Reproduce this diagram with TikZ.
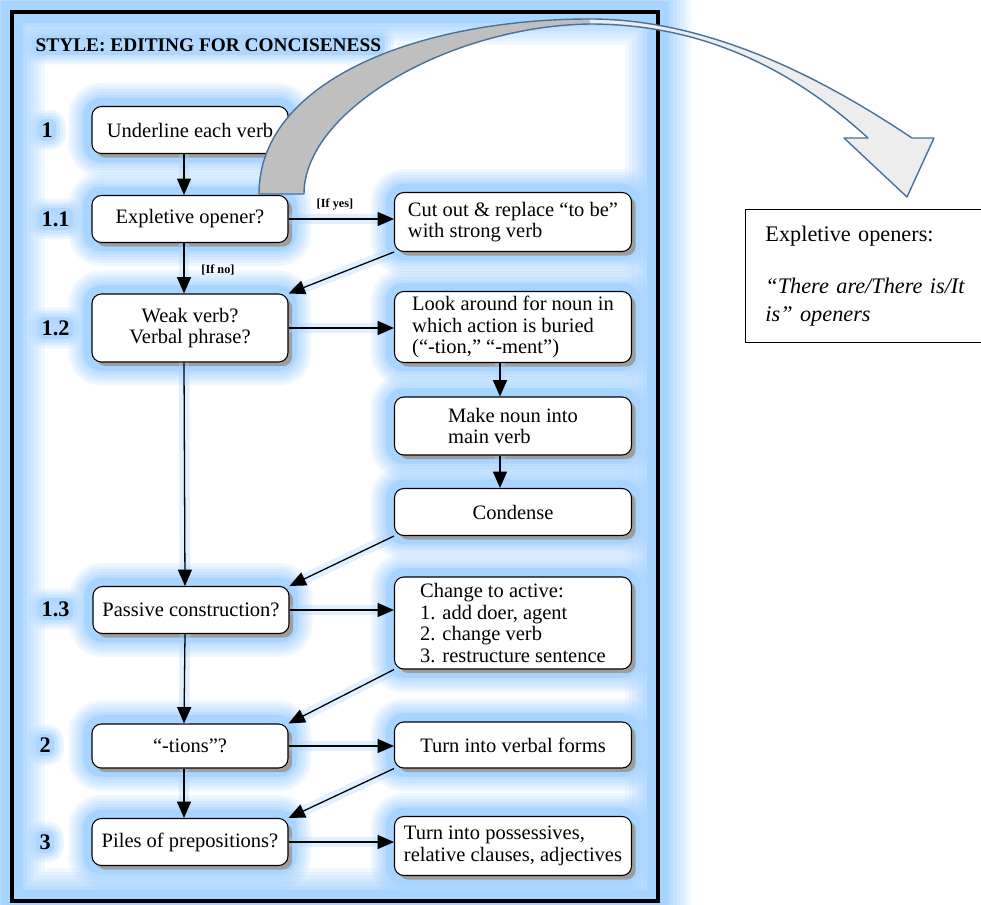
\documentclass[tikz,border=0pt]{standalone}
\usepackage{fontspec}
\setmainfont{Liberation Serif}
\usetikzlibrary{arrows.meta,shadows}
\definecolor{glowblue}{HTML}{A8D5FF}
\definecolor{arcgray}{HTML}{BFBFBF}
\definecolor{arclight}{HTML}{EDEDED}
\definecolor{arcedge}{HTML}{48729A}
\newcommand{\flowfont}{\fontsize{17.5}{18.5}\selectfont}

\begin{document}
\begin{tikzpicture}[x=0.03cm, y=-0.03cm,
    glow/.style={preaction={draw=glowblue, line width=40pt, opacity=0.18},
                 preaction={draw=glowblue, line width=35pt, opacity=0.18},
                 preaction={draw=glowblue, line width=30pt, opacity=0.2},
                 preaction={draw=glowblue, line width=25pt, opacity=0.25},
                 preaction={draw=glowblue, line width=20pt, opacity=0.35},
                 preaction={draw=glowblue, line width=15pt}},
    outerframe/.style={preaction={draw=glowblue, line width=56pt, opacity=0.15},
                       preaction={draw=glowblue, line width=50pt, opacity=0.15},
                       preaction={draw=glowblue, line width=44pt, opacity=0.18},
                       preaction={draw=glowblue, line width=38pt, opacity=0.2},
                       preaction={draw=glowblue, line width=32pt, opacity=0.25},
                       preaction={draw=glowblue, line width=26pt, opacity=0.35},
                       preaction={draw=glowblue, line width=19pt},
                       draw=black, line width=4.2pt},
    textglow/.style={rounded corners=6pt,
                     preaction={fill=glowblue, draw=glowblue, line width=16pt, opacity=0.2},
                     preaction={fill=glowblue, draw=glowblue, line width=11pt, opacity=0.25},
                     preaction={fill=glowblue, draw=glowblue, line width=6pt, opacity=0.35},
                     preaction={fill=glowblue, opacity=0.5}},
    stepbox/.style={glow, drop shadow={shadow xshift=3.5pt, shadow yshift=-3.5pt, fill=black!38, opacity=1},
                    rectangle, rounded corners=8pt, draw=black, line width=0.9pt, fill=white, font=\flowfont, inner sep=3pt},
    leftbox/.style={stepbox, minimum width=5.88cm, minimum height=1.41cm, align=center},
    rightbox/.style={stepbox, minimum width=7.11cm, align=left},
    stepnum/.style={textglow, font=\fontsize{19}{19}\selectfont\bfseries, inner sep=3pt},
    titletext/.style={textglow, font=\fontsize{16.5}{17}\selectfont\bfseries, inner sep=3pt},
    iflabel/.style={font=\fontsize{10.5}{11}\selectfont\bfseries},
    arrow/.style={-{Triangle[length=14pt, width=12pt]}, line width=1.1pt,
                  preaction={draw=glowblue, line width=9pt, opacity=0.35, arrows=-}},
    notebox/.style={draw=black, line width=0.8pt, fill=white, font=\fontsize{19}{24}\selectfont, align=left,
                    text width=6.4cm, inner xsep=0.6cm, minimum height=3.99cm}
]
    \fill[white] (0,0) rectangle (981,905);
    \useasboundingbox (0,0) rectangle (981,905);

    % frame and title
    \draw[outerframe] (12,12) rectangle (658,901);
    \node[titletext, anchor=west] (title) at (32,45) {STYLE: EDITING FOR CONCISENESS};

    % step numbers
    \node[stepnum, anchor=west] (n1) at (38,130) {1};
    \node[stepnum, anchor=west] (n11) at (38,219) {1.1};
    \node[stepnum, anchor=west] (n12) at (38,328) {1.2};
    \node[stepnum, anchor=west] (n13) at (38,609) {1.3};
    \node[stepnum, anchor=west] (n2) at (36,745) {2};
    \node[stepnum, anchor=west] (n3) at (36,842) {3};

    % left column
    \node[leftbox] (u) at (190,130) {Underline each verb};
    \node[leftbox] (e) at (190,219) {Expletive opener?};
    \node[leftbox, minimum height=2.04cm] (w) at (190,328) {Weak verb?\\Verbal phrase?};
    \node[leftbox] (p) at (191,610) {Passive construction?};
    \node[leftbox, minimum height=1.32cm] (t) at (190,746) {“-tions”?};
    \node[leftbox] (pp) at (190,842) {Piles of prepositions?};

    % right column
    \node[rightbox, minimum height=1.77cm] (cut) at (513,222) {Cut out \& replace “to be”\\with strong verb};
    \node[rightbox, minimum height=2.13cm] (look) at (513,327) {Look around for noun in\\which action is buried\\(“-tion,” “-ment”)};
    \node[rightbox, minimum height=1.74cm] (make) at (513,426) {Make noun into\\main verb};
    \node[rightbox, minimum height=1.41cm] (cond) at (513,512) {Condense};
    \node[rightbox, minimum height=2.76cm] (act) at (513,623) {Change to active:\\1. add doer, agent\\2. change verb\\3. restructure sentence};
    \node[rightbox, minimum height=1.38cm] (verbal) at (513,745) {Turn into verbal forms};
    \node[rightbox, minimum height=1.77cm] (poss) at (513,846) {Turn into possessives,\\relative clauses, adjectives};

    % vertical flow
    \draw[arrow] ([xshift=-0.18cm]u.south) -- ([xshift=-0.18cm]e.north);
    \draw[arrow] ([xshift=-0.18cm]e.south) -- ([xshift=-0.18cm]w.north);
    \draw[arrow] ([xshift=-0.18cm]w.south) -- ([xshift=-0.18cm]p.north);
    \draw[arrow] ([xshift=-0.18cm]p.south) -- ([xshift=-0.18cm]t.north);
    \draw[arrow] ([xshift=-0.18cm]t.south) -- ([xshift=-0.18cm]pp.north);
    \draw[arrow] ([xshift=-0.39cm]look.south) -- ([xshift=-0.39cm]make.north);
    \draw[arrow] ([xshift=-0.39cm]make.south) -- ([xshift=-0.39cm]cond.north);

    % across
    \draw[arrow] (e.east) -- (e.east -| cut.west);
    \draw[arrow] (w.east) -- (w.east -| look.west);
    \draw[arrow] (p.east) -- (p.east -| act.west);
    \draw[arrow] (t.east) -- (t.east -| verbal.west);
    \draw[arrow] (pp.east) -- (pp.east -| poss.west);

    % back to the left column
    \draw[arrow] (cut.south west) -- (w.north east);
    \draw[arrow] (cond.south west) -- (p.north east);
    \draw[arrow] (act.south west) -- (t.north east);
    \draw[arrow] (verbal.south west) -- (pp.north east);

    \node[iflabel] (yes) at (335,204) {[If yes]};
    \node[iflabel] (no) at (218,270) {[If no]};

    % note
    \node[notebox, anchor=north west] (note) at (745,209) {Expletive openers:\\[20pt]\textit{“There are/There is/It}\\\textit{is” openers}};

    % curved block arrow
    \fill[arcgray] (259,194) .. controls (259,80) and (420,19) .. (590,19)
        -- (590,24) .. controls (450,26) and (304,110) .. (304,194) -- cycle;
    \fill[arclight] (590,19) .. controls (720,19) and (840,90) .. (912,138)
        -- (934,138) -- (907,197) -- (844,138) -- (868,138)
        .. controls (810,85) and (720,24) .. (590,24) -- cycle;
    \draw[arcedge, line width=1.2pt, line join=round] (259,194) .. controls (259,80) and (420,19) .. (590,19)
        .. controls (720,19) and (840,90) .. (912,138)
        -- (934,138) -- (907,197) -- (844,138) -- (868,138)
        .. controls (810,85) and (720,24) .. (590,24)
        .. controls (450,26) and (304,110) .. (304,194) -- cycle;
\end{tikzpicture}
\end{document}
